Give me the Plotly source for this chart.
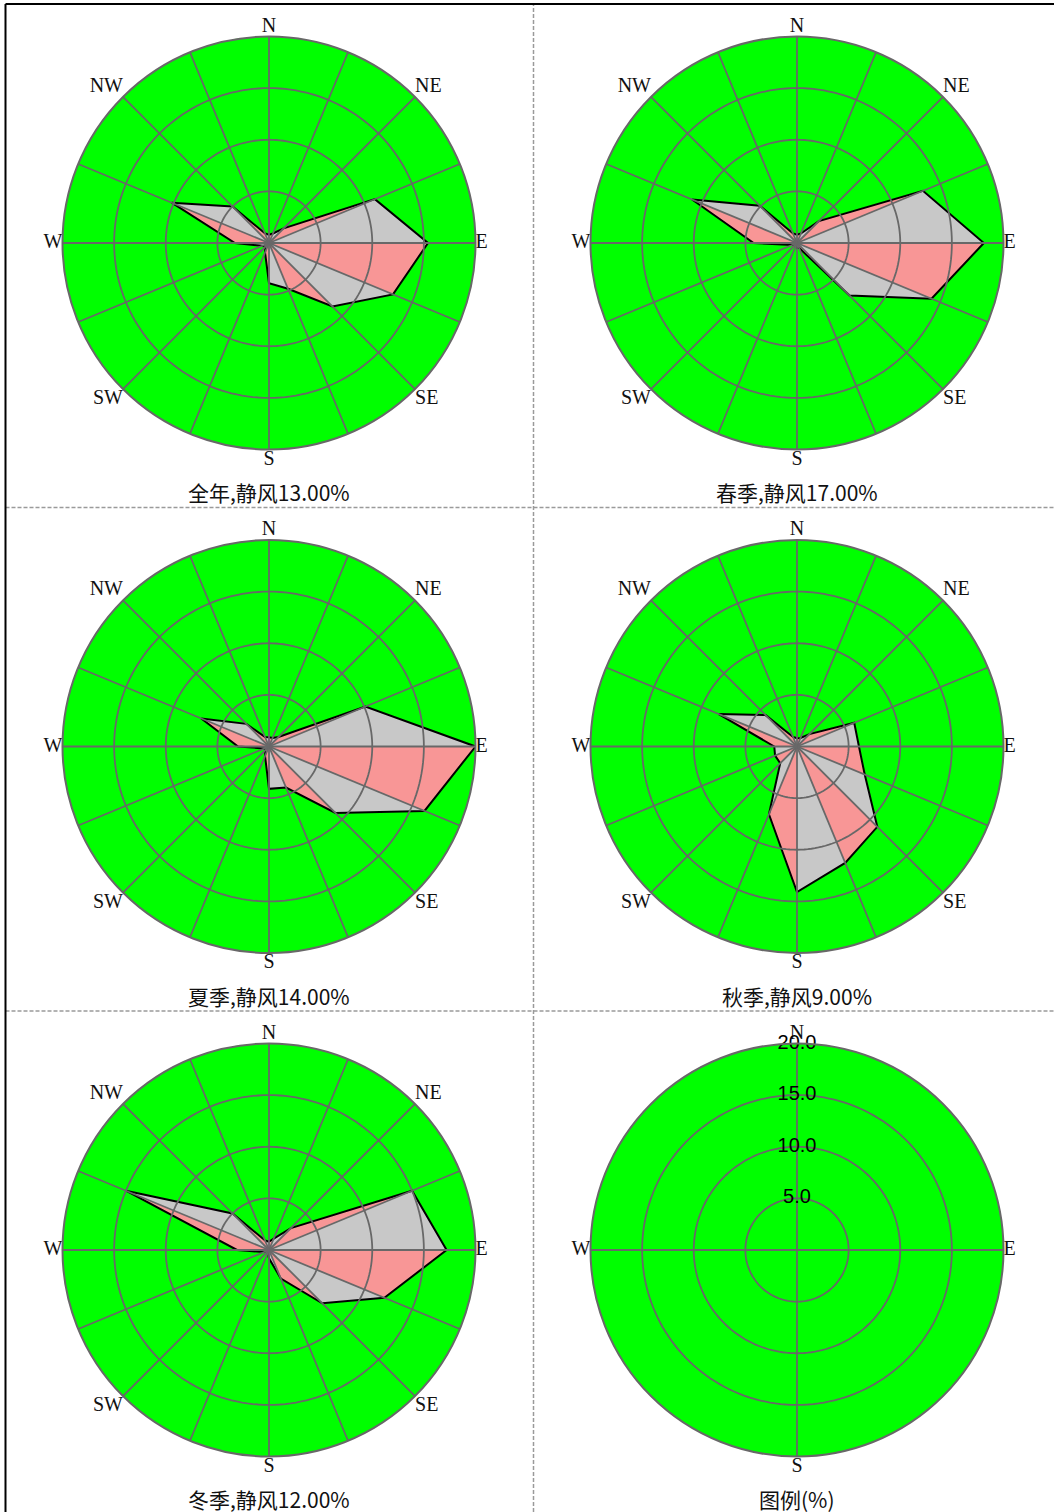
import plotly.graph_objects as go

# ---------------- data ----------------
DIRS = ["N", "NNE", "NE", "ENE", "E", "ESE", "SE", "SSE",
        "S", "SSW", "SW", "WSW", "W", "WNW", "NW", "NNW"]
THETA = [i * 22.5 for i in range(16)]

# wind direction frequency (%) per season, 16 sectors starting at N, clockwise
annual = [0.8, 1.0, 2.0, 11.1, 15.4, 13.0, 8.7, 4.8, 3.9, 1.0, 0.5, 0.7, 3.3, 10.2, 5.0, 1.0]
spring = [0.8, 1.0, 3.0, 13.2, 18.1, 14.1, 7.2, 0.5, 0.5, 0.3, 0.3, 0.5, 4.2, 11.0, 5.1, 1.0]
summer = [0.9, 0.9, 1.3, 10.1, 20.0, 16.3, 9.1, 4.3, 4.1, 1.0, 0.5, 0.5, 3.0, 7.1, 3.1, 1.0]
autumn = [0.8, 0.9, 1.7, 6.0, 6.0, 7.1, 11.0, 12.2, 14.1, 7.1, 2.3, 2.3, 2.2, 8.2, 4.3, 1.0]
winter = [0.8, 1.2, 3.0, 15.0, 17.2, 12.1, 7.3, 3.0, 0.8, 0.3, 0.3, 0.5, 3.1, 15.0, 5.0, 1.0]

season_names = ["全年", "春季", "夏季", "秋季", "冬季"]
calm_pct = [13.00, 17.00, 14.00, 9.00, 12.00]
season_values = [annual, spring, summer, autumn, winter]

ring_vals = [5, 10, 15, 20]
ring_labels = ["5.0", "10.0", "15.0", "20.0"]
legend_title = "图例(%)"

# ---------------- layout geometry ----------------
W, H = 1054, 1512
LEFT, TOP = 5.5, 4.0
PANEL_W, PANEL_H = 528.0, 503.5
R = 206.5            # plot radius in px (20 %)
CX_OFF, CY_OFF = 263.5, 239.0
TITLE_OFF = 249.0
LABEL_R = 20         # compass labels anchored on the outer ring

GREEN = "#00ff00"
GRID = "#686868"
PINK = "#f89696"
GREY = "#c8c8c8"

# text anchor for each compass label so it hugs the outer ring
LABEL_POS = {"N": "top center", "NE": "top right", "E": "middle right",
             "SE": "bottom right", "S": "bottom center", "SW": "bottom left",
             "W": "middle left", "NW": "top left"}

fig = go.Figure()


def panel_center(k):
    row, col = divmod(k, 2)
    return LEFT + col * PANEL_W + CX_OFF, TOP + row * PANEL_H + CY_OFF


def add_grid(sub, spokes):
    # concentric rings drawn over the data
    for rv in ring_vals[:-1]:
        th = [a * 2 for a in range(181)]
        fig.add_trace(go.Scatterpolar(
            r=[rv] * len(th), theta=th, mode="lines", subplot=sub,
            line=dict(color=GRID, width=1.8), hoverinfo="skip", showlegend=False))
    th, rr = [], []
    for t in spokes:
        th += [t, t, None]
        rr += [0, ring_vals[-1], None]
    fig.add_trace(go.Scatterpolar(
        r=rr, theta=th, mode="lines", subplot=sub,
        line=dict(color=GRID, width=1.8), hoverinfo="skip", showlegend=False))


def add_compass_labels(sub, names):
    fig.add_trace(go.Scatterpolar(
        r=[LABEL_R] * len(names), theta=[THETA[DIRS.index(n)] for n in names],
        mode="text", text=names, textposition=[LABEL_POS[n] for n in names],
        cliponaxis=False, subplot=sub,
        textfont=dict(family="Liberation Serif, DejaVu Serif, serif", size=20, color="#111111"),
        hoverinfo="skip", showlegend=False))


layout_polars = {}
annotations = []

for k in range(6):
    sub = "polar" if k == 0 else f"polar{k + 1}"
    cx, cy = panel_center(k)
    domain = dict(x=[(cx - R) / W, (cx + R) / W],
                  y=[1 - (cy + R) / H, 1 - (cy - R) / H])

    if k < 5:
        vals = season_values[k]
        # alternating wedge fills between neighbouring directions
        for i in range(16):
            j = (i + 1) % 16
            col = PINK if i % 2 == 0 else GREY
            fig.add_trace(go.Scatterpolar(
                r=[0, vals[i], vals[j], 0],
                theta=[THETA[i], THETA[i], THETA[j], THETA[j]],
                mode="lines", fill="toself", fillcolor=col, subplot=sub,
                line=dict(color=col, width=0.6), hoverinfo="skip", showlegend=False))
        # outline of the rose
        fig.add_trace(go.Scatterpolar(
            r=vals + [vals[0]], theta=THETA + [THETA[0]], mode="lines", subplot=sub,
            line=dict(color="black", width=2), hoverinfo="skip", showlegend=False))
        add_grid(sub, THETA)
        add_compass_labels(sub, DIRS[::2])
        title = f"{season_names[k]},静风{calm_pct[k]:.2f}%"
    else:
        add_grid(sub, [0, 90, 180, 270])
        add_compass_labels(sub, ["N", "E", "S", "W"])
        fig.add_trace(go.Scatterpolar(
            r=ring_vals, theta=[0] * len(ring_vals), mode="text", text=ring_labels,
            textposition="middle center", cliponaxis=False, subplot=sub,
            textfont=dict(family="Liberation Sans, Arial, sans-serif", size=20, color="black"),
            hoverinfo="skip", showlegend=False))
        title = legend_title

    layout_polars[sub] = dict(
        domain=domain,
        bgcolor=GREEN,
        radialaxis=dict(range=[0, ring_vals[-1]], visible=True, showgrid=False,
                        showline=False, showticklabels=False, ticks=""),
        angularaxis=dict(rotation=90, direction="clockwise",
                         showticklabels=False, showgrid=False, ticks="",
                         showline=True, linecolor=GRID, linewidth=2),
    )

    annotations.append(dict(
        x=cx / W, y=1 - (cy + TITLE_OFF) / H, xref="paper", yref="paper",
        text=title, showarrow=False, xanchor="center", yanchor="middle",
        font=dict(family="Noto Sans CJK SC, sans-serif", size=21, color="#111111")))

# panel separators and frame
shapes = []
dash = dict(color="#9a9a9a", width=1.5, dash="4px,2px")
shapes.append(dict(type="line", xref="paper", yref="paper",
                   x0=(LEFT + PANEL_W) / W, x1=(LEFT + PANEL_W) / W,
                   y0=0, y1=1 - TOP / H, line=dash))
for r_ in (1, 2):
    yy = 1 - (TOP + r_ * PANEL_H) / H
    shapes.append(dict(type="line", xref="paper", yref="paper",
                       x0=LEFT / W, x1=1, y0=yy, y1=yy, line=dash))
shapes.append(dict(type="line", xref="paper", yref="paper",
                   x0=LEFT / W, x1=1, y0=1 - TOP / H, y1=1 - TOP / H,
                   line=dict(color="black", width=2)))
shapes.append(dict(type="line", xref="paper", yref="paper",
                   x0=LEFT / W, x1=LEFT / W, y0=0, y1=1 - TOP / H,
                   line=dict(color="black", width=2)))

fig.update_layout(
    width=W, height=H, autosize=False,
    margin=dict(l=0, r=0, t=0, b=0),
    paper_bgcolor="white", plot_bgcolor="white",
    showlegend=False,
    annotations=annotations,
    shapes=shapes,
    **layout_polars,
)

fig.write_html("out.html")
